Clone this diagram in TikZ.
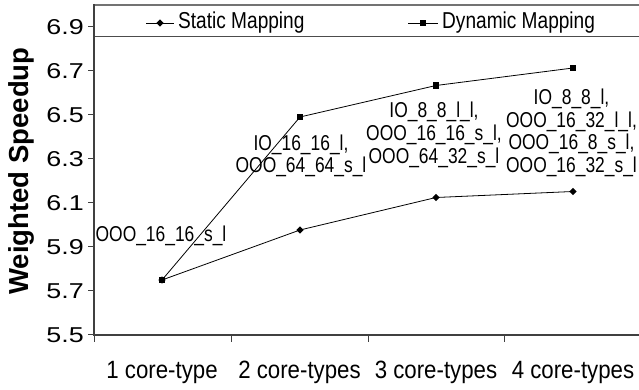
\documentclass[tikz,border=0pt]{standalone}
\usepackage{fontspec}
\setmainfont{Liberation Sans}
\newfontfamily\annfont[FakeStretch=0.81]{Liberation Sans}
\newfontfamily\legfont[FakeStretch=0.83]{Liberation Sans}
\newfontfamily\catfont[FakeStretch=0.89]{Liberation Sans}
\newfontfamily\tickfont[FakeStretch=1.25]{Liberation Sans}
\usetikzlibrary{shapes.geometric}
\tikzset{
  axisline/.style={draw=black!75, line width=1.1pt},
  tickline/.style={draw=black!75, line width=1pt},
  dataline/.style={draw=black, line width=0.8pt},
  sqmark/.style={rectangle, fill=black, minimum size=6.5pt, inner sep=0pt},
  dmmark/.style={diamond, fill=black, minimum size=7.5pt, inner sep=0pt},
  ticklbl/.style={anchor=east, inner sep=0pt, font=\tickfont\fontsize{21.5}{22}\selectfont},
  catlbl/.style={inner sep=0pt, font=\catfont\fontsize{25}{26}\selectfont},
  leglbl/.style={anchor=west, inner sep=0pt, font=\legfont\fontsize{23}{24}\selectfont},
  annlbl/.style={inner sep=0pt, align=center, font=\annfont\fontsize{21.5}{22.7}\selectfont},
  ylbl/.style={inner sep=0pt, rotate=90, font=\bfseries\fontsize{27.5}{28}\selectfont}
}
\begin{document}
\begin{tikzpicture}[x=1pt,y=1pt]
\useasboundingbox (0,0) rectangle (639,390);
\begin{scope}
\clip (0,0) rectangle (639,390);
% legend box
\draw[draw=black!55, line width=2pt] (94,385) -- (639,385);
\draw[draw=black!70, line width=1pt] (94,353) -- (639,353);
% axes
\coordinate (otop) at (94,386);
\coordinate (o) at (94,55);
\coordinate (xend) at (639,55);
\draw[axisline] (otop) -- (o) -- (xend);
% y ticks
\foreach \v/\i in {5.5/0,5.7/1,5.9/2,6.1/3,6.3/4,6.5/5,6.7/6,6.9/7}{
  \pgfmathsetmacro{\yy}{55+(\v-5.5)*220}
  \coordinate (yt\i) at (94,\yy);
  \draw[tickline] (yt\i) -- ++(-6,0);
  \node[ticklbl] (yl\i) at (84,\yy) {\v};
}
% x ticks
\foreach \xx/\n in {94/0,231/1,368/2,504/3}{
  \coordinate (xt\n) at (\xx,55);
  \draw[tickline] (xt\n) -- ++(0,-7);
}
\node[catlbl] (c1) at (162,18) {1 core-type};
\node[catlbl] (c2) at (299.5,18) {2 core-types};
\node[catlbl] (c3) at (436,18) {3 core-types};
\node[catlbl] (c4) at (573,18) {4 core-types};
% y label
\node[ylbl] (ylabel) at (21,219) {Weighted Speedup};
% data
\node[dmmark] (s1) at (162,110) {};
\node[dmmark] (s2) at (300,160) {};
\node[dmmark] (s3) at (436,192.5) {};
\node[dmmark] (s4) at (573,198.5) {};
\node[sqmark] (d1) at (162,110) {};
\node[sqmark] (d2) at (300,273) {};
\node[sqmark] (d3) at (436,304.5) {};
\node[sqmark] (d4) at (573,322) {};
\draw[dataline] (s1.center) -- (s2.center) -- (s3.center) -- (s4.center);
\draw[dataline] (d1.center) -- (d2.center) -- (d3.center) -- (d4.center);
% legend
\coordinate (la1) at (146,367);
\coordinate (la2) at (174,367);
\draw[dataline] (la1) -- (la2);
\node[dmmark] (lm1) at (160,367) {};
\node[leglbl] (lt1) at (178,367) {Static Mapping};
\coordinate (lb1) at (408,367);
\coordinate (lb2) at (438,367);
\draw[dataline] (lb1) -- (lb2);
\node[sqmark] (lm2) at (423,367) {};
\node[leglbl] (lt2) at (442,367) {Dynamic Mapping};
% annotations
\node[annlbl] (a1) at (161,154) {OOO\_16\_16\_s\_l};
\node[annlbl] (a2) at (301,234) {IO\_16\_16\_l,\\OOO\_64\_64\_s\_l};
\node[annlbl] (a3) at (434,255) {IO\_8\_8\_l\_l,\\OOO\_16\_16\_s\_l,\\OOO\_64\_32\_s\_l};
\node[annlbl] (a4) at (571.5,257) {IO\_8\_8\_l,\\OOO\_16\_32\_l\_l,\\OOO\_16\_8\_s\_l,\\OOO\_16\_32\_s\_l};
\end{scope}
\end{tikzpicture}
\end{document}
